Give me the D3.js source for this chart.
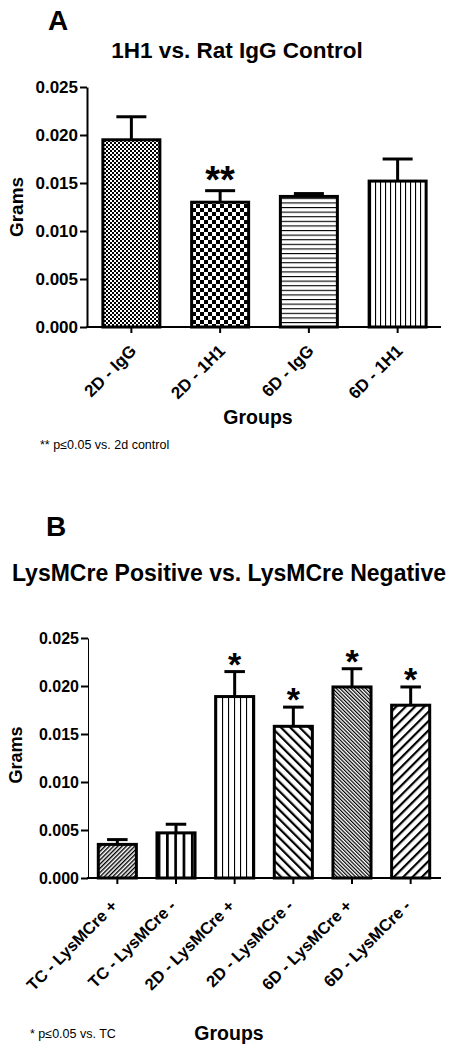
<!DOCTYPE html>
<html>
<head>
<meta charset="utf-8">
<script src="https://cdn.jsdelivr.net/npm/d3@7"></script>
<style>
  html, body { margin: 0; padding: 0; background: #fff; }
  svg { display: block; font-family: "Liberation Sans", Arial, sans-serif; }
</style>
</head>
<body>
<svg id="chart" width="452" height="1050"></svg>
<script>
// ---------- data ----------
const aCategories = ["2D - IgG", "2D - 1H1", "6D - IgG", "6D - 1H1"];
const aMeans = [0.0195, 0.0130, 0.0136, 0.0152];
const aErrors = [0.0024, 0.0012, 0.0003, 0.0023];
const aStars = ["", "**", "", ""];
const aPatterns = ["chkFine", "chkBig", "hLines", "vLines"];

const bCategories = ["TC - LysMCre +", "TC - LysMCre -", "2D - LysMCre +", "2D - LysMCre -", "6D - LysMCre +", "6D - LysMCre -"];
const bMeans = [0.0035, 0.0047, 0.0189, 0.0158, 0.0199, 0.0180];
const bErrors = [0.0005, 0.0009, 0.0026, 0.0020, 0.0019, 0.0019];
const bStars = ["", "", "*", "*", "*", "*"];
const bPatterns = ["slashFine", "vThick", "vThin", "backWide", "backFine", "slashWide"];

const yTicks = [0, 0.005, 0.010, 0.015, 0.020, 0.025];

const svg = d3.select("#chart");
const defs = svg.append("defs");

// ---------- patterns ----------
function pat(id, w, h, transform) {
  const p = defs.append("pattern").attr("id", id).attr("patternUnits", "userSpaceOnUse")
    .attr("width", w).attr("height", h);
  if (transform) p.attr("patternTransform", transform);
  p.append("rect").attr("width", w).attr("height", h).attr("fill", "#fff");
  return p;
}
let p;
p = pat("chkFine", 4, 4);
p.append("rect").attr("x", 0).attr("y", 0).attr("width", 2).attr("height", 2).attr("fill", "#000");
p.append("rect").attr("x", 2).attr("y", 2).attr("width", 2).attr("height", 2).attr("fill", "#000");
p = pat("chkBig", 8, 8);
p.append("rect").attr("x", 0).attr("y", 0).attr("width", 4).attr("height", 4).attr("fill", "#000");
p.append("rect").attr("x", 4).attr("y", 4).attr("width", 4).attr("height", 4).attr("fill", "#000");
p = pat("hLines", 10, 4.6);
p.append("rect").attr("x", 0).attr("y", 0).attr("width", 10).attr("height", 1.1).attr("fill", "#000");
p = pat("vLines", 5, 10);
p.append("rect").attr("x", 0).attr("y", 0).attr("width", 1.1).attr("height", 10).attr("fill", "#000");
p = pat("vThin", 6, 10);
p.append("rect").attr("x", 0).attr("y", 0).attr("width", 1.1).attr("height", 10).attr("fill", "#000");
p = pat("vThick", 8.3, 10);
p.append("rect").attr("x", 0).attr("y", 0).attr("width", 2.7).attr("height", 10).attr("fill", "#000");
p = pat("slashFine", 3, 10, "rotate(45)");
p.append("rect").attr("x", 0).attr("y", 0).attr("width", 1.4).attr("height", 10).attr("fill", "#000");
p = pat("slashWide", 6.6, 10, "rotate(45)");
p.append("rect").attr("x", 0).attr("y", 0).attr("width", 2.2).attr("height", 10).attr("fill", "#000");
p = pat("backFine", 2.6, 10, "rotate(-45)");
p.append("rect").attr("x", 0).attr("y", 0).attr("width", 1.2).attr("height", 10).attr("fill", "#000");
p = pat("backWide", 6.6, 10, "rotate(-45)");
p.append("rect").attr("x", 0).attr("y", 0).attr("width", 2.2).attr("height", 10).attr("fill", "#000");

// ---------- generic panel ----------
function panel(cfg) {
  const g = svg.append("g");
  const x = d3.scaleBand().domain(cfg.categories).range(cfg.xRange).paddingInner(cfg.padding).paddingOuter(cfg.padding / 2);
  const y = d3.scaleLinear().domain([0, 0.025]).range(cfg.yRange);

  // y axis
  const ya = g.append("g").attr("transform", `translate(${cfg.xRange[0]},0)`)
    .call(d3.axisLeft(y).tickValues(yTicks).tickFormat(d3.format(".3f")).tickSize(cfg.tickLen).tickSizeOuter(0).tickPadding(2));
  ya.select(".domain").attr("stroke-width", cfg.yAxisWidth).attr("stroke", "#000");
  ya.selectAll(".tick line").attr("stroke-width", 2).attr("stroke", "#000");
  ya.selectAll(".tick text").attr("font-size", cfg.tickFont).attr("font-weight", "bold").attr("fill", "#000");

  // bars
  const data = cfg.categories.map((c, i) => ({ c, m: cfg.means[i], e: cfg.errors[i], s: cfg.stars[i], p: cfg.patterns[i] }));
  const bw = x.bandwidth();
  // error bars
  g.selectAll(".err").data(data).enter().append("line")
    .attr("x1", d => x(d.c) + bw / 2).attr("x2", d => x(d.c) + bw / 2)
    .attr("y1", d => y(d.m)).attr("y2", d => y(d.m + d.e))
    .attr("stroke", "#000").attr("stroke-width", 3);
  g.selectAll(".cap").data(data).enter().append("line")
    .attr("x1", d => x(d.c) + bw / 4).attr("x2", d => x(d.c) + bw * 3 / 4)
    .attr("y1", d => y(d.m + d.e)).attr("y2", d => y(d.m + d.e))
    .attr("stroke", "#000").attr("stroke-width", 3);
  g.selectAll(".bar").data(data).enter().append("rect")
    .attr("x", d => x(d.c) + 1.5).attr("width", bw - 3)
    .attr("y", d => y(d.m)).attr("height", d => y(0) - y(d.m))
    .attr("fill", d => `url(#${d.p})`).attr("stroke", "#000").attr("stroke-width", 3);
  // stars
  g.selectAll(".star").data(data.filter(d => d.s)).enter().append("text")
    .attr("x", d => x(d.c) + bw / 2).attr("y", d => y(d.m + d.e) + cfg.starDy)
    .attr("text-anchor", "middle").attr("font-size", cfg.starFont).attr("font-weight", "bold")
    .text(d => d.s);

  // x axis
  const xa = g.append("g").attr("transform", `translate(0,${cfg.yRange[0]})`)
    .call(d3.axisBottom(x).tickSize(6).tickSizeOuter(0));
  xa.select(".domain").attr("stroke-width", 2).attr("stroke", "#000")
    .attr("d", `M${cfg.xRange[0] - 1},0H${cfg.xAxisEnd}`);
  xa.selectAll(".tick line").attr("stroke-width", 2).attr("stroke", "#000");
  xa.selectAll(".tick text").attr("font-size", cfg.xFont).attr("font-weight", "bold").attr("fill", "#000")
    .attr("y", 0).attr("dy", 0).attr("text-anchor", "end")
    .attr("transform", `translate(${cfg.xLabOff[0]},${cfg.xLabOff[1]}) rotate(-45)`);

  // labels
  g.append("text").attr("x", cfg.letter[0]).attr("y", cfg.letter[1]).attr("font-size", 28).attr("font-weight", "bold").text(cfg.letterText);
  g.append("text").attr("x", cfg.title[0]).attr("y", cfg.title[1]).attr("text-anchor", "middle")
    .attr("font-size", cfg.titleFont).attr("font-weight", "bold").text(cfg.titleText);
  g.append("text").attr("transform", `translate(${cfg.yLab[0]},${cfg.yLab[1]}) rotate(-90)`).attr("text-anchor", "middle")
    .attr("font-size", cfg.yLabFont).attr("font-weight", "bold").text("Grams");
  g.append("text").attr("x", cfg.xLab[0]).attr("y", cfg.xLab[1]).attr("text-anchor", "middle")
    .attr("font-size", 19.5).attr("font-weight", "bold").text("Groups");
  g.append("text").attr("x", cfg.note[0]).attr("y", cfg.note[1]).attr("font-size", 12.5).text(cfg.noteText);
}

panel({
  categories: aCategories, means: aMeans, errors: aErrors, stars: aStars, patterns: aPatterns,
  xRange: [87, 442], xAxisEnd: 441, padding: 0.324, yRange: [327, 87],
  tickLen: 7, tickFont: 17, yAxisWidth: 2, starFont: 38, starDy: 2, xFont: 17, xLabOff: [6, 25],
  letter: [48, 30], letterText: "A", title: [237, 58], titleFont: 22.5, titleText: "1H1 vs. Rat IgG Control",
  yLab: [23, 207], yLabFont: 19, xLab: [258, 424], note: [40, 449], noteText: "** p\u22640.05 vs. 2d control"
});

panel({
  categories: bCategories, means: bMeans, errors: bErrors, stars: bStars, patterns: bPatterns,
  xRange: [88, 440], xAxisEnd: 441, padding: 0.30, yRange: [878, 638],
  tickLen: 7, tickFont: 16, yAxisWidth: 1, starFont: 34, starDy: 4, xFont: 16.5, xLabOff: [1, 29],
  letter: [46, 536], letterText: "B", title: [229, 581], titleFont: 23, titleText: "LysMCre Positive vs. LysMCre Negative",
  yLab: [22, 755], yLabFont: 18, xLab: [229, 1040], note: [30, 1038], noteText: "* p\u22640.05 vs. TC"
});
</script>
</body>
</html>
